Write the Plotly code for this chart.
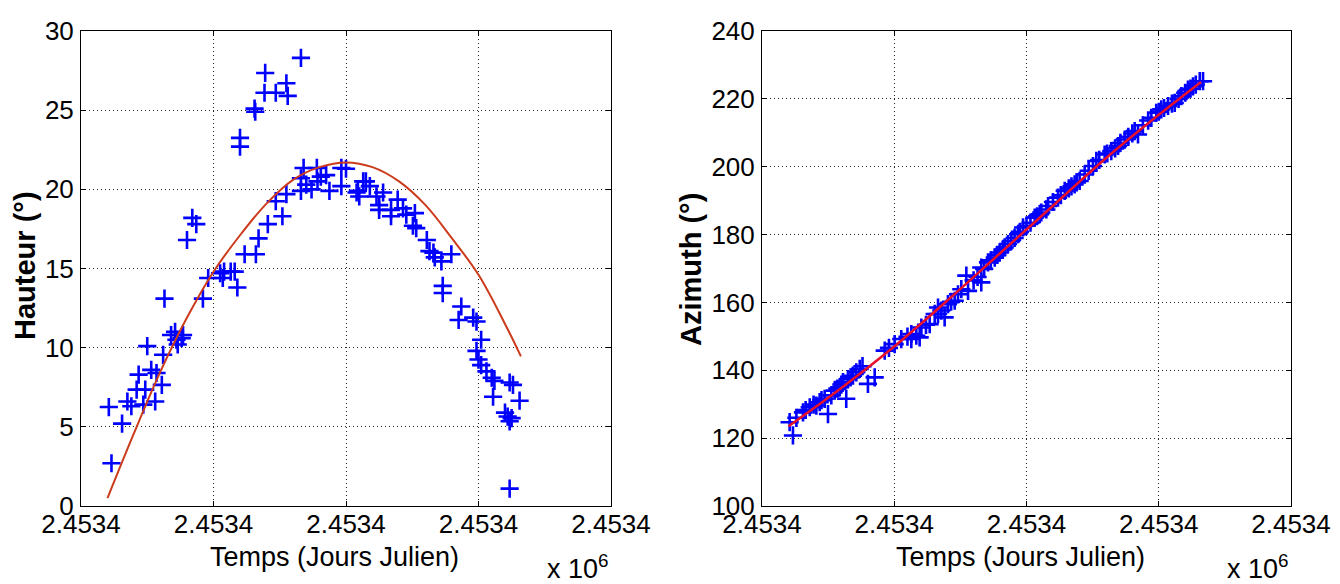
import plotly.graph_objects as go

W, H = 1340, 584

# ---------------- data (x in tick units: 0..4 -> the five "2.4534" ticks) -------------
tick_pos = [0, 1, 2, 3, 4]
tick_text = ["2.4534", "2.4534", "2.4534", "2.4534", "2.4534"]

haut_t = [0.21, 0.23, 0.31, 0.35, 0.38, 0.42, 0.435, 0.47, 0.485, 0.50, 0.53, 0.56, 0.57,
          0.61, 0.62, 0.63, 0.68, 0.71, 0.72, 0.73, 0.76, 0.77, 0.80, 0.84, 0.87, 0.92,
          0.96, 1.05, 1.07, 1.08, 1.13, 1.16, 1.18, 1.20, 1.20, 1.235, 1.31, 1.315, 1.32,
          1.34, 1.385, 1.39, 1.41, 1.47, 1.47, 1.52, 1.55, 1.56, 1.55, 1.66, 1.66, 1.66,
          1.68, 1.70, 1.74, 1.78, 1.785, 1.81, 1.85, 1.875, 1.965, 1.965, 2.00, 2.08, 2.09,
          2.10, 2.13, 2.15, 2.18, 2.23, 2.25, 2.28, 2.25, 2.34, 2.34, 2.39, 2.43, 2.455,
          2.52, 2.505, 2.53, 2.61, 2.63, 2.66, 2.67, 2.72, 2.795, 2.73, 2.73, 2.87, 2.85,
          2.96, 2.985, 3.02, 2.985, 3.00, 3.02, 3.06, 3.10, 3.12, 3.11, 3.235, 3.26, 3.31,
          3.20, 3.22, 3.25, 3.235, 3.235]
haut_v = [6.25, 2.7, 5.2, 6.6, 6.3, 7.35, 8.3, 6.4, 7.35, 10.1, 8.6, 6.6, 8.4,
          7.65, 9.55, 13.1, 10.8, 11.0, 10.5, 10.2, 10.6, 10.8, 16.8, 18.2, 17.8, 13.1,
          14.4, 14.7, 14.4, 14.8, 14.8, 14.8, 13.8, 23.25, 22.7, 15.9, 25.1, 24.9, 15.9,
          16.9, 26.1, 27.35, 17.8, 26.1, 19.25, 18.3, 26.7, 25.9, 19.7, 28.3, 20.7, 19.9,
          21.35, 20.3, 20.0, 21.35, 20.5, 20.8, 20.9, 19.9, 21.35, 20.2, 21.3, 19.8, 19.9,
          19.55, 20.5, 20.5, 20.2, 19.55, 19.0, 19.8, 18.7, 18.7, 18.3, 19.35, 18.8, 18.4,
          18.5, 17.7, 17.55, 16.8, 16.1, 16.0, 15.7, 15.45, 15.9, 13.9, 13.45, 12.6, 11.75,
          11.9, 11.65, 10.5, 9.8, 9.25, 8.9, 8.5, 8.1, 7.9, 6.9, 7.8, 7.65, 6.65,
          5.9, 5.65, 5.55, 5.35, 1.1]

fit_h_t = [0.20, 0.40, 0.60, 0.80, 1.00, 1.20, 1.40, 1.60, 1.80, 2.00, 2.20, 2.40, 2.60,
           2.80, 3.00, 3.20, 3.32]
fit_h_v = [0.5, 4.6, 8.5, 11.9, 14.8, 17.1, 19.1, 20.6, 21.4, 21.7, 21.4, 20.5, 19.0,
           16.9, 14.6, 11.5, 9.45]

azim_t = [0.209, 0.234, 0.26, 0.31, 0.33, 0.361, 0.39, 0.411, 0.436, 0.45, 0.474, 0.499,
          0.524, 0.55, 0.57, 0.588, 0.60, 0.612, 0.637, 0.65, 0.67, 0.688, 0.713, 0.739,
          0.76, 0.801, 0.852, 0.928, 0.96, 1.003, 1.053, 1.10, 1.129, 1.129, 1.167, 1.192,
          1.205, 1.24, 1.268, 1.306, 1.331, 1.331, 1.356, 1.381, 1.406, 1.43, 1.457, 1.482,
          1.507, 1.545, 1.558, 1.60, 1.63, 1.658, 1.658, 1.68, 1.709, 1.73, 1.76, 1.78,
          1.797, 1.82, 1.835, 1.86, 1.885, 1.91, 1.936, 1.95, 1.974, 2.00, 2.03, 2.062,
          2.08, 2.10, 2.112, 2.15, 2.163, 2.20, 2.238, 2.26, 2.289, 2.32, 2.34, 2.364,
          2.38, 2.402, 2.44, 2.47, 2.503, 2.528, 2.55, 2.591, 2.61, 2.641, 2.67, 2.692,
          2.71, 2.743, 2.77, 2.80, 2.818, 2.843, 2.88, 2.92, 2.944, 2.981, 3.00, 3.019,
          3.04, 3.07, 3.10, 3.121, 3.15, 3.171, 3.20, 3.221, 3.24, 3.259, 3.28, 3.31, 3.335]
azim_v = [124.7, 120.8, 126.0, 127.6, 128.3, 129.1, 129.9, 129.6, 130.6, 131.2, 131.6, 127.1,
          132.6, 134.0, 134.6, 135.0, 135.8, 136.5, 131.6, 137.4, 137.9, 138.4, 139.4, 140.4,
          141.2, 136.0, 137.9, 145.8, 146.6, 147.7, 149.2, 149.9, 149.2, 150.7, 150.2, 149.7,
          152.6, 153.4, 153.6, 156.6, 156.6, 158.5, 157.6, 155.6, 159.5, 160.2, 160.5, 162.4,
          163.9, 167.9, 163.4, 166.5, 167.5, 165.9, 170.3, 169.9, 171.8, 172.4, 173.2, 174.0,
          174.7, 175.6, 176.2, 177.2, 178.1, 179.0, 180.1, 180.8, 182.1, 182.6, 183.5, 185.0,
          185.4, 186.0, 186.5, 187.4, 188.4, 189.6, 190.9, 191.6, 192.9, 193.6, 194.2, 194.8,
          195.4, 195.8, 197.7, 198.8, 200.2, 201.7, 202.0, 203.6, 203.9, 204.6, 205.4, 206.1,
          207.0, 208.0, 208.8, 209.8, 210.5, 209.5, 212.2, 213.6, 214.4, 215.9, 216.2, 216.9,
          217.3, 217.9, 218.6, 218.8, 220.0, 220.8, 221.8, 222.7, 223.0, 223.7, 224.2, 225.2, 225.2]

fit_a_t = [0.20, 0.60, 1.00, 1.40, 1.80, 2.20, 2.60, 3.00, 3.32]
fit_a_v = [123.5, 134.8, 147.0, 160.5, 174.5, 188.5, 202.5, 215.3, 225.0]

# ---------------- styling -------------
FONT = "Liberation Sans, Arial, sans-serif"
BLUE = "#0000ff"

marker = dict(symbol="cross-thin", size=13, color=BLUE, line=dict(color=BLUE, width=2.6))

fig = go.Figure()
fig.add_trace(go.Scatter(x=haut_t, y=haut_v, mode="markers", marker=marker,
                         xaxis="x", yaxis="y", showlegend=False))
fig.add_trace(go.Scatter(x=fit_h_t, y=fit_h_v, mode="lines", line=dict(color="#cc3b1c", width=2, shape="spline"),
                         xaxis="x", yaxis="y", showlegend=False))
fig.add_trace(go.Scatter(x=azim_t, y=azim_v, mode="markers", marker=marker,
                         xaxis="x2", yaxis="y2", showlegend=False))
fig.add_trace(go.Scatter(x=fit_a_t, y=fit_a_v, mode="lines", line=dict(color="#e8102a", width=2.5, shape="spline"),
                         xaxis="x2", yaxis="y2", showlegend=False))

axis_common = dict(
    showline=True, linecolor="black", linewidth=1, mirror="ticks",
    ticks="inside", ticklen=5, tickcolor="black", tickwidth=1,
    showgrid=True, gridcolor="#222222", gridwidth=1, griddash="1px,3px",
    zeroline=False, tickfont=dict(family=FONT, size=26, color="black"),
    automargin=False, fixedrange=True,
)

fig.update_layout(
    width=W, height=H,
    margin=dict(l=0, r=0, t=23, b=86),
    paper_bgcolor="white", plot_bgcolor="white",
    xaxis=dict(axis_common, domain=[73 / W, 603 / W], range=[0, 4], tickvals=tick_pos, ticktext=tick_text,
               anchor="y", ticklabelstandoff=-5),
    yaxis=dict(axis_common, domain=[0, 1], range=[0, 30], dtick=5, anchor="x", ticklabelstandoff=1),
    xaxis2=dict(axis_common, domain=[754 / W, 1283 / W], range=[0, 4], tickvals=tick_pos, ticktext=tick_text,
                anchor="y2", ticklabelstandoff=-5),
    yaxis2=dict(axis_common, domain=[0, 1], range=[100, 240], dtick=20, anchor="x2", ticklabelstandoff=1),
)

def ypix(p):
    return (498 - p) / 475.0

ann = []
for cx in (326, 1013):
    ann.append(dict(text="Temps (Jours Julien)", x=cx / W, y=ypix(566), xref="paper", yref="paper",
                    xanchor="center", yanchor="bottom", showarrow=False,
                    font=dict(family=FONT, size=27, color="black")))
for rx in (603, 1283):
    ann.append(dict(text="x 10<sup>6</sup>", x=rx / W, y=ypix(578), xref="paper", yref="paper",
                    xanchor="right", yanchor="bottom", showarrow=False,
                    font=dict(family=FONT, size=27, color="black")))
ann.append(dict(text="<b>Hauteur (°)</b>", x=17 / W, y=ypix(258), xref="paper", yref="paper",
                xanchor="center", yanchor="middle", textangle=-90, showarrow=False,
                font=dict(family=FONT, size=29, color="black")))
ann.append(dict(text="<b>Azimuth (°)</b>", x=683 / W, y=ypix(262), xref="paper", yref="paper",
                xanchor="center", yanchor="middle", textangle=-90, showarrow=False,
                font=dict(family=FONT, size=29, color="black")))
fig.update_layout(annotations=ann)

fig.write_html("out.html")
